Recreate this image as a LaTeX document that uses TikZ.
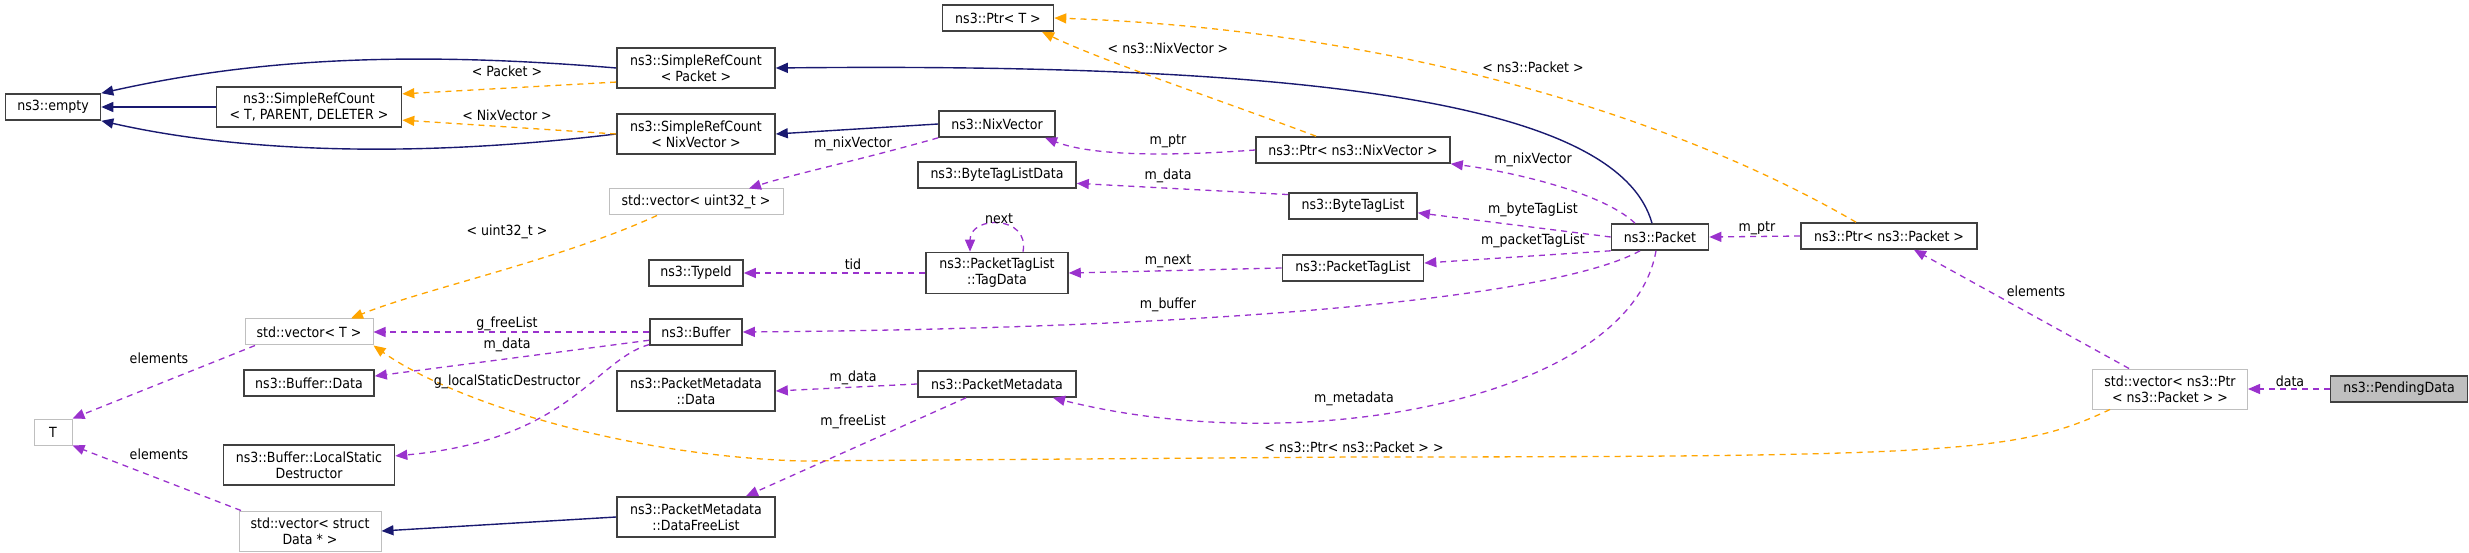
\documentclass[tikz,border=0pt]{standalone}
\usepackage{fontspec}
\setmainfont{DejaVu Sans Condensed}
\usetikzlibrary{arrows.meta}
\definecolor{inhcol}{HTML}{191970}
\definecolor{tplcol}{HTML}{FFA500}
\definecolor{usecol}{HTML}{9A32CD}
\tikzset{%
  cls/.style     = {draw=black!75, line width=1.6pt, rectangle, align=center,
    font=\fontsize{14}{16}\selectfont, inner sep=0pt, minimum height=26pt,
    minimum width=#1},
  ext/.style     = {cls=#1, draw=black!25, line width=1pt}, % not documented
  focus/.style   = {cls=#1, fill=black!25}, % the class itself
  lbl/.style     = {font=\fontsize{14}{16}\selectfont, inner sep=0pt},
  inh/.style     = {draw=inhcol, line width=1.4pt, -{Triangle[length=12pt,width=10pt]}},
  tpl/.style     = {draw=tplcol, line width=1.3pt, dash pattern=on 6pt off 5pt,
    -{Triangle[length=12pt,width=10pt]}},
  use/.style     = {draw=usecol, line width=1.3pt, dash pattern=on 6pt off 5pt,
    -{Triangle[length=12pt,width=10pt]}}
}
\begin{document}
\begin{tikzpicture}[x=1pt, y=-1pt]
  \useasboundingbox (0,0) rectangle (2469,553);
  % classes
  \node[cls=95]  (empty)  at (53,107)   {ns3::empty};
  \node[cls=185, minimum height=40pt] (tpd) at (309,107) {ns3::SimpleRefCount\\< T, PARENT, DELETER >};
  \node[cls=158, minimum height=40pt] (srcp) at (696,68) {ns3::SimpleRefCount\\< Packet >};
  \node[cls=158, minimum height=40pt] (srcn) at (696,134) {ns3::SimpleRefCount\\< NixVector >};
  \node[ext=174] (vu32)   at (696,202)  {std::vector< uint32\_t >};
  \node[cls=94]  (typeid) at (696,273)  {ns3::TypeId};
  \node[ext=128] (vT)     at (309,332)  {std::vector< T >};
  \node[cls=92]  (buf)    at (696,332)  {ns3::Buffer};
  \node[cls=130] (bufd)   at (309,383)  {ns3::Buffer::Data};
  \node[cls=158, minimum height=40pt] (pmdd) at (696,391) {ns3::PacketMetadata\\::Data};
  \node[ext=38]  (T)      at (53,432)   {T};
  \node[cls=171, minimum height=40pt] (lsd) at (309,465) {ns3::Buffer::LocalStatic\\Destructor};
  \node[ext=142, minimum height=40pt] (vsd) at (310,531) {std::vector< struct\\Data * >};
  \node[cls=158, minimum height=40pt] (dfl) at (696,517) {ns3::PacketMetadata\\::DataFreeList};
  \node[cls=111] (ptrT)   at (998,18)   {ns3::Ptr< T >};
  \node[cls=116] (nix)    at (997,124)  {ns3::NixVector};
  \node[cls=194] (ptrn)   at (1353,150) {ns3::Ptr< ns3::NixVector >};
  \node[cls=158] (btld)   at (997,175)  {ns3::ByteTagListData};
  \node[cls=128] (btl)    at (1353,206) {ns3::ByteTagList};
  \node[cls=142, minimum height=41pt] (tagd) at (997,273) {ns3::PacketTagList\\::TagData};
  \node[cls=141] (ptl)    at (1353,268) {ns3::PacketTagList};
  \node[cls=97]  (pkt)    at (1660,237) {ns3::Packet};
  \node[cls=158] (pmd)    at (997,384)  {ns3::PacketMetadata};
  \node[cls=176] (ptrp)   at (1889,236) {ns3::Ptr< ns3::Packet >};
  \node[ext=155, minimum height=40pt] (vpp) at (2170,389) {std::vector< ns3::Ptr\\< ns3::Packet > >};
  \node[focus=137] (pend) at (2399,389) {ns3::PendingData};

  % inheritance
  \draw[inh] (srcp.west) .. controls (400,50) and (250,60) .. (empty.north east);
  \draw[inh] (tpd.west) -- (empty.east);
  \draw[inh] (srcn.west) .. controls (400,160) and (230,150) .. (empty.south east);
  \draw[inh] ([xshift=-8pt]pkt.north) .. controls (1620,110) and (1350,62) .. (srcp.east);
  \draw[inh] (nix.west) -- (srcn.east);
  \draw[inh] (dfl.west) -- (vsd.east);

  % template instances
  \draw[tpl] (srcp.190) -- (tpd.8);
  \draw[tpl] (srcn.west) -- (tpd.-8);
  \draw[tpl] ([xshift=-37pt]ptrn.north) .. controls (1220,100) and (1100,60) .. ([xshift=44pt]ptrT.south);
  \draw[tpl] ([xshift=-33pt]ptrp.north) .. controls (1680,120) and (1400,30) .. (ptrT.east);
  \draw[tpl] ([xshift=-39pt]vu32.south) .. controls (560,260) and (420,290) .. ([xshift=42pt]vT.north);
  \draw[tpl] ([xshift=-60pt]vpp.south) .. controls (2020,452) and (1960,457) .. (1354,457)
    -- (800,461) .. controls (620,455) and (450,400) .. (vT.south east);

  % members
  \draw[use] (nix.south west) .. controls (860,160) and (790,175) .. ([xshift=53pt]vu32.north);
  \draw[use] (ptrn.west) .. controls (1160,157) and (1090,155) .. ([xshift=48pt]nix.south);
  \draw[use] ([xshift=-25pt]pkt.north) .. controls (1600,190) and (1500,170) .. (ptrn.south east);
  \draw[use] (btl.170) -- (btld.-6);
  \draw[use] (pkt.west) -- (btl.-6);
  \draw[use] ([xshift=26pt]tagd.north) .. controls (1030,215) and (970,215) .. ([xshift=-27pt]tagd.north);
  \draw[use] (tagd.west) -- (typeid.east);
  \draw[use] (ptl.west) -- (tagd.east);
  \draw[use] (pkt.south west) -- (ptl.4);
  \draw[use] ([xshift=-20pt]pkt.south) .. controls (1560,295) and (1250,328) .. (buf.east);
  \draw[use] (buf.west) -- (vT.east);
  \draw[use] (buf.-170) -- (bufd.6);
  \draw[use] (buf.-165) .. controls (595,360) and (570,440) .. (lsd.6);
  \draw[use] (pmd.west) -- (pmdd.east);
  \draw[use] ([xshift=-31pt]pmd.south) -- ([xshift=50pt]dfl.north);
  \draw[use] ([xshift=-4pt]pkt.south) .. controls (1630,400) and (1300,460) .. ([xshift=56pt]pmd.south);
  \draw[use] ([xshift=-54pt]vT.south) -- (T.north east);
  \draw[use] ([xshift=-69pt]vsd.north) -- (T.south east);
  \draw[use] (ptrp.west) -- (pkt.east);
  \draw[use] ([xshift=-41pt]vpp.north) -- ([xshift=25pt]ptrp.south);
  \draw[use] (pend.west) -- (vpp.east);

  % labels
  \node[lbl] (lpack)   at (507,71)   {< Packet >};
  \node[lbl] (lnix)    at (507,115)  {< NixVector >};
  \node[lbl] (lu32)    at (507,232)  {< uint32\_t >};
  \node[lbl] (lfree)   at (507,324)  {g\_freeList};
  \node[lbl] (lbdata)  at (507,345)  {m\_data};
  \node[lbl] (llsd)    at (507,382)  {g\_localStaticDestructor};
  \node[lbl] (lel1)    at (159,358)  {elements};
  \node[lbl] (lel2)    at (159,454)  {elements};
  \node[lbl] (lnixv)   at (853,144)  {m\_nixVector};
  \node[lbl] (ltid)    at (853,264)  {tid};
  \node[lbl] (lpdata)  at (853,378)  {m\_data};
  \node[lbl] (lfl)     at (853,422)  {m\_freeList};
  \node[lbl] (lpnix)   at (1168,48)  {< ns3::NixVector >};
  \node[lbl] (lppkt)   at (1533,67)  {< ns3::Packet >};
  \node[lbl] (lmptr)   at (1168,141) {m\_ptr};
  \node[lbl] (lpnixv)  at (1533,160) {m\_nixVector};
  \node[lbl] (lbtdata) at (1168,176) {m\_data};
  \node[lbl] (lbtl)    at (1533,210) {m\_byteTagList};
  \node[lbl] (lnext)   at (999,219)  {next};
  \node[lbl] (lptl)    at (1533,241) {m\_packetTagList};
  \node[lbl] (lmnext)  at (1168,261) {m\_next};
  \node[lbl] (lbuf)    at (1168,305) {m\_buffer};
  \node[lbl] (lmeta)   at (1354,399) {m\_metadata};
  \node[lbl] (lvpp)    at (1354,447) {< ns3::Ptr< ns3::Packet > >};
  \node[lbl] (lpptr)   at (1757,228) {m\_ptr};
  \node[lbl] (lelem)   at (2036,291) {elements};
  \node[lbl] (ldata)   at (2290,381) {data};
\end{tikzpicture}
\end{document}
